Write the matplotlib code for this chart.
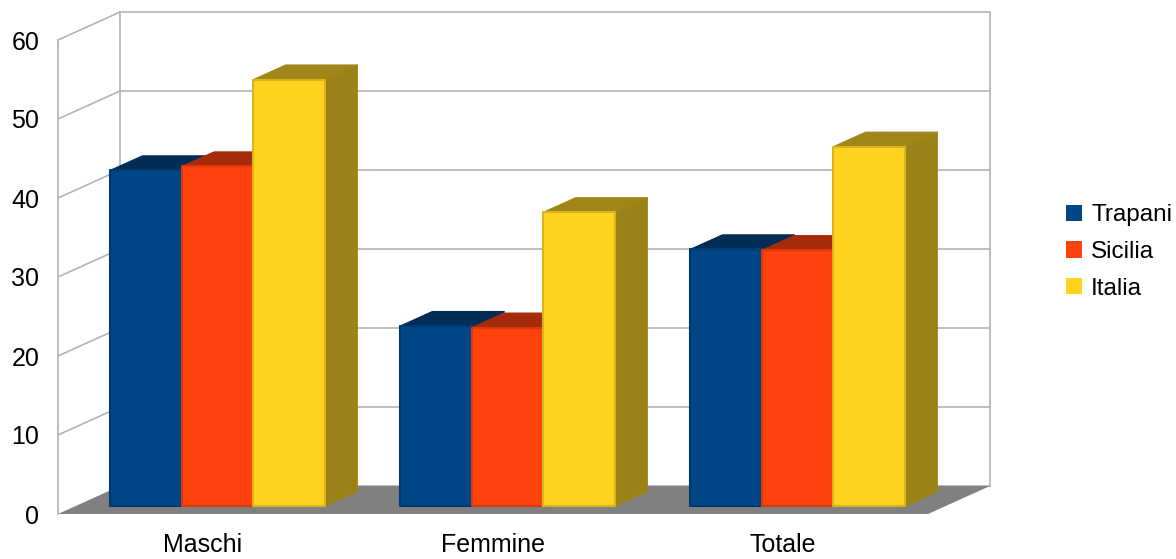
import matplotlib
matplotlib.use("Agg")
import matplotlib.pyplot as plt
from matplotlib.patches import Polygon, Patch

plt.rcParams['font.family'] = ['Liberation Sans', 'DejaVu Sans']

# ---- data ----
categories = ["Maschi", "Femmine", "Totale"]
series_names = ["Trapani", "Sicilia", "Italia"]
trapani = [42.5, 22.8, 32.5]
sicilia = [43.0, 22.6, 32.4]
italia = [54.0, 37.2, 45.5]
y_ticks = [0, 10, 20, 30, 40, 50, 60]

values = [trapani, sicilia, italia]
front_colors = ["#004586", "#ff420e", "#ffd320"]
top_colors = ["#002c55", "#a52b0a", "#a08619"]
side_colors = ["#003366", "#b2300b", "#9c8216"]
edge_colors = ["#003a70", "#d83a0c", "#d9b41c"]

W_PX, H_PX = 1176, 559
fig = plt.figure(figsize=(W_PX / 100, H_PX / 100), dpi=100)

# front plane: x 0..3 -> px 58..928 ; y 0..60 -> px 514..40
px_per_cat = 290.0
px_per_val = 7.9
DX = 62 / px_per_cat      # depth offset in category units
DY = 28 / px_per_val      # depth offset in value units
x0_px, y0_px = 58, 514
ymax = 60
ax = fig.add_axes([x0_px / W_PX, (H_PX - y0_px) / H_PX,
                   (len(categories) + DX) * px_per_cat / W_PX,
                   (ymax + DY) * px_per_val / H_PX])
ax.set_xlim(0, len(categories) + DX)
ax.set_ylim(0, ymax + DY)
for s in ax.spines.values():
    s.set_visible(False)
ax.set_facecolor("none")

grid_c = "#b3b3b3"
n = len(categories)

# floor
ax.add_patch(Polygon([(0, 0), (n, 0), (n + DX, DY), (DX, DY)],
                     closed=True, facecolor="#808080", edgecolor="none",
                     clip_on=False, zorder=1))
# gridlines (side wall + back wall)
for v in y_ticks:
    if v == 0:
        continue
    ax.plot([0, DX, n + DX], [v, v + DY, v + DY], color=grid_c, lw=1.2,
            clip_on=False, zorder=0.5, solid_capstyle="butt")
ax.plot([0, 0], [0, ymax], color=grid_c, lw=1.2, clip_on=False, zorder=0.5)
ax.plot([DX, DX], [DY, ymax + DY], color=grid_c, lw=1.2, clip_on=False, zorder=0.5)
ax.plot([n + DX, n + DX], [DY, ymax + DY], color=grid_c, lw=1.2, clip_on=False, zorder=0.5)
ax.plot([DX, n + DX], [DY, DY], color=grid_c, lw=1.2, clip_on=False, zorder=0.5)

# bars
w = 0.247
off = 0.12
d1, d2 = 0.28, 0.80
z = 2
for i in range(n):
    for j, vals in enumerate(values):
        v = vals[i]
        xl = i + off + j * w
        xr = xl + w
        fx1, fy1 = d1 * DX, d1 * DY
        fx2, fy2 = d2 * DX, d2 * DY
        side = [(xr + fx1, fy1), (xr + fx2, fy2), (xr + fx2, v + fy2), (xr + fx1, v + fy1)]
        top = [(xl + fx1, v + fy1), (xr + fx1, v + fy1), (xr + fx2, v + fy2), (xl + fx2, v + fy2)]
        front = [(xl + fx1, fy1), (xr + fx1, fy1), (xr + fx1, v + fy1), (xl + fx1, v + fy1)]
        ax.add_patch(Polygon(side, closed=True, facecolor=side_colors[j],
                             edgecolor=side_colors[j], lw=0.8, joinstyle="round", zorder=z))
        ax.add_patch(Polygon(top, closed=True, facecolor=top_colors[j],
                             edgecolor=top_colors[j], lw=0.8, joinstyle="round", zorder=z + 0.1))
        ax.add_patch(Polygon(front, closed=True, facecolor=front_colors[j],
                             edgecolor=edge_colors[j], lw=1.5, joinstyle="round", zorder=z + 0.2))
        z += 1

# axis labels
ax.set_yticks(y_ticks)
ax.set_yticklabels([str(t) for t in y_ticks], fontsize=18)
ax.set_xticks([i + 0.5 for i in range(n)])
ax.set_xticklabels(categories, fontsize=18)
ax.tick_params(axis="y", length=0, pad=13.5)
ax.tick_params(axis="x", length=0, pad=14)

# legend
handles = [Patch(facecolor=c, edgecolor="none", label=nm) for c, nm in zip(front_colors, series_names)]
fig.legend(handles=handles, loc="center left",
           bbox_to_anchor=(1066 / W_PX, 1 - 252 / H_PX),
           frameon=False, fontsize=17.5, handlelength=0.66, handleheight=0.66,
           handletextpad=0.37, labelspacing=0.6, borderaxespad=0, borderpad=0)

fig.savefig("out.png", dpi=100)
